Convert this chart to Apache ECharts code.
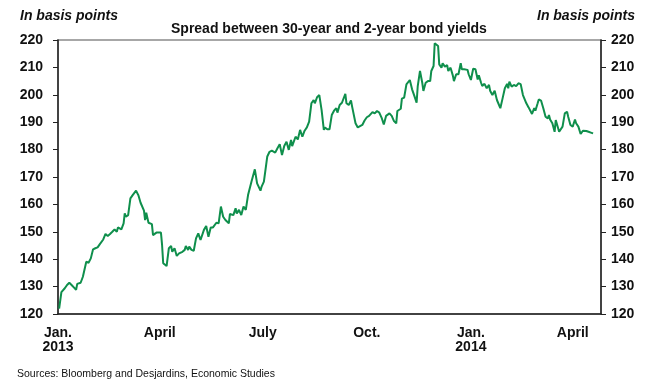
<!DOCTYPE html>
<html>
<head>
<meta charset="utf-8">
<title>Spread between 30-year and 2-year bond yields</title>
<script src="https://cdn.jsdelivr.net/npm/echarts@6/dist/echarts.min.js"></script>
<style>
  html, body { margin: 0; padding: 0; background: #fff; }
  #chart { width: 649px; height: 383px; }
</style>
</head>
<body>
<div id="chart"></div>
<script>
// Spread between 30-year and 2-year US bond yields, in basis points
const dates = [
  '2013-01-02','2013-01-04','2013-01-05','2013-01-07','2013-01-09','2013-01-11','2013-01-13','2013-01-15',
  '2013-01-17','2013-01-18','2013-01-21','2013-01-23','2013-01-26','2013-01-28','2013-01-30','2013-02-01',
  '2013-02-03','2013-02-05','2013-02-07','2013-02-10','2013-02-12','2013-02-14','2013-02-16','2013-02-18',
  '2013-02-20','2013-02-22','2013-02-23','2013-02-26','2013-02-28','2013-03-01','2013-03-02','2013-03-04',
  '2013-03-06','2013-03-08','2013-03-11','2013-03-13','2013-03-15','2013-03-18','2013-03-19','2013-03-20',
  '2013-03-22','2013-03-25','2013-03-26','2013-03-29','2013-04-02','2013-04-03','2013-04-04','2013-04-07',
  '2013-04-09','2013-04-11','2013-04-12','2013-04-14','2013-04-16','2013-04-18','2013-04-21','2013-04-23',
  '2013-04-24','2013-04-26','2013-04-27','2013-04-29','2013-05-01','2013-05-03','2013-05-05','2013-05-07',
  '2013-05-10','2013-05-12','2013-05-14','2013-05-16','2013-05-18','2013-05-21','2013-05-23','2013-05-25',
  '2013-05-27','2013-05-29','2013-06-01','2013-06-02','2013-06-05','2013-06-07','2013-06-08','2013-06-10',
  '2013-06-12','2013-06-14','2013-06-16','2013-06-18','2013-06-21','2013-06-24','2013-06-26','2013-06-29',
  '2013-06-30','2013-07-02','2013-07-04','2013-07-05','2013-07-07','2013-07-09','2013-07-12','2013-07-14',
  '2013-07-16','2013-07-18','2013-07-20','2013-07-22','2013-07-24','2013-07-26','2013-07-27','2013-07-30',
  '2013-08-01','2013-08-03','2013-08-05','2013-08-07','2013-08-09','2013-08-11','2013-08-13','2013-08-15',
  '2013-08-16','2013-08-18','2013-08-20','2013-08-22','2013-08-24','2013-08-25','2013-08-27','2013-08-29',
  '2013-08-31','2013-09-02','2013-09-04','2013-09-05','2013-09-07','2013-09-09','2013-09-10','2013-09-12',
  '2013-09-13','2013-09-15','2013-09-17','2013-09-18','2013-09-21','2013-09-23','2013-09-24','2013-09-27',
  '2013-09-29','2013-10-01','2013-10-03','2013-10-06','2013-10-08','2013-10-10','2013-10-12','2013-10-14',
  '2013-10-16','2013-10-18','2013-10-21','2013-10-23','2013-10-25','2013-10-27','2013-10-28','2013-10-31',
  '2013-11-01','2013-11-03','2013-11-05','2013-11-06','2013-11-08','2013-11-10','2013-11-12','2013-11-14',
  '2013-11-15','2013-11-17','2013-11-19','2013-11-20','2013-11-22','2013-11-24','2013-11-26','2013-11-27',
  '2013-11-29','2013-11-30','2013-12-01','2013-12-03','2013-12-04','2013-12-06','2013-12-07','2013-12-09',
  '2013-12-11','2013-12-12','2013-12-14','2013-12-16','2013-12-17','2013-12-19','2013-12-21','2013-12-23',
  '2013-12-24','2013-12-26','2013-12-29','2013-12-30','2014-01-01','2014-01-03','2014-01-05','2014-01-07',
  '2014-01-08','2014-01-10','2014-01-11','2014-01-13','2014-01-15','2014-01-17','2014-01-18','2014-01-20',
  '2014-01-22','2014-01-24','2014-01-25','2014-01-27','2014-01-29','2014-01-31','2014-02-02','2014-02-03',
  '2014-02-04','2014-02-06','2014-02-08','2014-02-10','2014-02-12','2014-02-14','2014-02-16','2014-02-19',
  '2014-02-21','2014-02-23','2014-02-24','2014-02-26','2014-02-27','2014-03-01','2014-03-02','2014-03-04',
  '2014-03-06','2014-03-08','2014-03-10','2014-03-11','2014-03-12','2014-03-14','2014-03-16','2014-03-17',
  '2014-03-18','2014-03-20','2014-03-21','2014-03-23','2014-03-25','2014-03-27','2014-03-28','2014-03-30',
  '2014-04-01','2014-04-03','2014-04-04','2014-04-06','2014-04-08','2014-04-10','2014-04-13','2014-04-15',
  '2014-04-17','2014-04-19'
];

const spread = [
  122, 128, 127.3, 129.4, 130.6, 131.4, 130.6, 129.7,
  128.8, 131, 131.4, 133.6, 139.1, 138.7, 140.3, 143.6,
  144, 144.3, 145.5, 147.2, 149.2, 148.5, 149.2, 150,
  150.9, 150, 151.6, 150.9, 153.1, 156.7, 155.5, 156.1,
  162.2, 163.4, 165, 163.4, 160.6, 157.7, 154.3, 157,
  153.3, 152.8, 148.8, 149.7, 149.7, 145.2, 138.5, 137.5,
  144, 144.8, 142.7, 144, 141.2, 142.1, 142.7, 143.4,
  144.8, 143.4, 144.6, 143.4, 143.1, 147.6, 149.4, 147,
  150.7, 152.1, 148.2, 151.6, 151.6, 153.3, 153.1, 159.2,
  155.5, 154.3, 153.1, 156.5, 156.1, 158.6, 156.7, 158,
  156.1, 159.2, 158, 163.4, 168.3, 172.8, 167.7, 165,
  166.5, 168.3, 174.4, 177.5, 179.2, 179.6, 178.9, 180.5,
  182, 178, 181.3, 182.9, 179.9, 183.5, 181.3, 184.7,
  183.7, 187.2, 184.7, 186.9, 188.1, 190.2, 196.9, 198.1,
  196.9, 199.1, 199.9, 194.5, 187.2, 188.1, 187.4, 187.4,
  192.6, 194.2, 195.1, 193.5, 196.3, 197.1, 196.6, 200.3,
  196.9, 196.3, 197.9, 195.7, 189.6, 188.1, 187.4, 189,
  190.6, 191.8, 192.3, 193.7, 193.2, 194.1, 193.5, 191.7,
  189.2, 192.3, 193.2, 192.3, 190.4, 189.6, 194.1, 194.9,
  198.6, 199, 203.8, 203.2, 205.4, 202, 199.6, 197.1,
  203.2, 208.7, 204.4, 201.4, 204.4, 205, 205, 208.7,
  210.5, 218.8, 219.3, 217.8, 211.1, 209.9, 211.5, 210.3,
  210.8, 208.7, 209.9, 207.1, 205, 207.5, 207.5, 211.5,
  209.3, 209.3, 209.1, 207.5, 205.4, 209.5, 209.3, 205.6,
  207.1, 204.4, 203.2, 204, 202.4, 203.6, 201.5, 199.9,
  201.5, 198.1, 197.5, 195.1, 198.7, 202.4, 204, 202.4,
  204.8, 203, 203.6, 203.2, 204.2, 203.9, 199.9, 196.9,
  195.4, 193.8, 193, 195.1, 194.2, 196.9, 198.3, 197.9,
  195.1, 192, 191.4, 192.6, 191, 189.6, 186.5, 190.8,
  190.2, 186.5, 186.9, 188.4, 193.2, 193.8, 192, 189,
  188.4, 191, 189.6, 188.4, 185.7, 186.9, 186.8, 186.5,
  186.2, 185.9
];

// Quarterly date ticks along the bottom axis
const tickDates = ['2013-01-01', '2013-04-01', '2013-07-01', '2013-10-01', '2014-01-01', '2014-04-01'];
const tickLabels = ['Jan.\n2013', 'April', 'July', 'Oct.', 'Jan.\n2014', 'April'];

const axisMin = '2013-01-01';
const axisMax = '2014-04-26';

const FONT = "'Liberation Sans', Arial, sans-serif";
const toTime = d => Date.UTC(+d.slice(0, 4), +d.slice(5, 7) - 1, +d.slice(8, 10));
const tickTimes = tickDates.map(toTime);

const chart = echarts.init(document.getElementById('chart'), null, { renderer: 'canvas' });

const yAxisBase = {
  type: 'value',
  min: 120,
  max: 220,
  interval: 10,
  axisLine: { show: true, lineStyle: { color: '#222', width: 1.5 } },
  axisTick: { show: true, inside: false, length: 5, lineStyle: { color: '#222', width: 1 } },
  splitLine: { show: false },
  axisLabel: { color: '#111', fontFamily: FONT, fontWeight: 'bold', fontSize: 14 }
};

const unitStyle = { fontFamily: FONT, fontWeight: 'bold', fontStyle: 'italic', fontSize: 14, color: '#111' };

chart.setOption({
  animation: false,
  backgroundColor: '#fff',
  textStyle: { fontFamily: FONT },
  title: [
    {
      text: 'Spread between 30-year and 2-year bond yields',
      left: 166, top: 17,
      textStyle: { fontFamily: FONT, fontWeight: 'bold', fontSize: 14, color: '#111' }
    },
    { text: 'In basis points', left: 15, top: 4, textStyle: unitStyle },
    { text: 'In basis points', right: 9, top: 4, textStyle: unitStyle },
    {
      text: 'Sources: Bloomberg and Desjardins, Economic Studies',
      left: 12, top: 364,
      textStyle: { fontFamily: FONT, fontWeight: 'normal', fontSize: 10.5, color: '#111' }
    }
  ],
  grid: {
    left: 58, right: 48, top: 40, bottom: 69,
    show: true,
    borderColor: '#8a8a8a',
    borderWidth: 1.5,
    backgroundColor: 'transparent',
    outerBoundsMode: 'none'
  },
  xAxis: {
    type: 'value',
    min: toTime(axisMin),
    max: toTime(axisMax),
    axisLine: { show: true, lineStyle: { color: '#222', width: 1.5 } },
    axisTick: { show: false },
    splitLine: { show: false },
    axisLabel: {
      customValues: tickTimes,
      margin: 12,
      lineHeight: 14,
      color: '#111',
      fontFamily: FONT,
      fontWeight: 'bold',
      fontSize: 14,
      formatter: function (value) {
        const i = tickTimes.indexOf(+value);
        return i >= 0 ? tickLabels[i] : '';
      }
    }
  },
  yAxis: [
    Object.assign({}, yAxisBase, {
      position: 'left',
      axisLabel: Object.assign({}, yAxisBase.axisLabel, { margin: 15 })
    }),
    Object.assign({}, yAxisBase, {
      position: 'right',
      axisLabel: Object.assign({}, yAxisBase.axisLabel, { margin: 10 })
    })
  ],
  series: [
    {
      name: 'Spread',
      type: 'line',
      yAxisIndex: 0,
      showSymbol: false,
      symbol: 'none',
      lineStyle: { color: '#0f8f4c', width: 2 },
      data: dates.map((d, i) => [toTime(d), spread[i]])
    }
  ]
});
</script>
</body>
</html>
